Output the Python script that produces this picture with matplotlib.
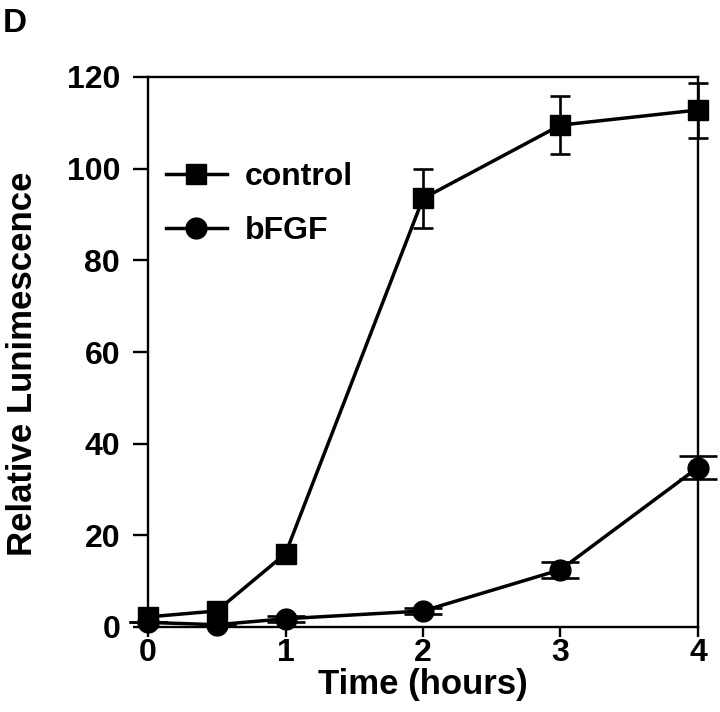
import numpy as np
import matplotlib
matplotlib.use('Agg')
import matplotlib.pyplot as plt

plt.rcParams['font.family'] = ['Liberation Sans', 'DejaVu Sans']
plt.rcParams['font.weight'] = 'bold'

# data
time_h = [0, 0.5, 1, 2, 3, 4]
control = [2.2, 3.5, 16.0, 93.5, 109.5, 112.8]
control_err = [0, 0, 0, 6.5, 6.3, 6.0]
bfgf = [1.0, 0.5, 1.8, 3.5, 12.5, 34.8]
bfgf_err = [0, 0, 0.6, 0.6, 1.7, 2.5]

xticks = [0, 1, 2, 3, 4]
yticks = [0, 20, 40, 60, 80, 100, 120]

fig = plt.figure(figsize=(7.2, 7.12), dpi=100)
ax = fig.add_axes([148 / 720, 1 - 627 / 712, 550 / 720, 550 / 712])

# error bars (kept out of the legend)
ax.errorbar(time_h, control, yerr=control_err, fmt='none', ecolor='black',
            elinewidth=1.9, capsize=7.5, capthick=1.9, clip_on=False)
ax.errorbar(time_h, bfgf, yerr=bfgf_err, fmt='none', ecolor='black',
            elinewidth=1.9, capsize=14, capthick=1.9, clip_on=False)

ax.plot(time_h, bfgf, color='black', lw=2.5, marker='o', markersize=15,
        label='bFGF', clip_on=False, zorder=3)
ax.plot(time_h, control, color='black', lw=2.5, marker='s', markersize=15,
        label='control', clip_on=False, zorder=4)

ax.set_xlim(0, 4)
ax.set_ylim(0, 120)
ax.set_xticks(xticks)
ax.set_yticks(yticks)

for s in ax.spines.values():
    s.set_linewidth(1.7)

ax.tick_params(axis='y', direction='out', length=11, width=1.7, pad=9,
               labelsize=23)
ax.tick_params(axis='x', direction='out', length=7, width=1.7, pad=1,
               labelsize=23)
for lab in ax.get_xticklabels() + ax.get_yticklabels():
    lab.set_fontweight('bold')

ax.set_xlabel('Time (hours)', fontsize=25, fontweight='bold', labelpad=0)
ax.set_ylabel('Relative Lunimescence', fontsize=25, fontweight='bold',
              labelpad=20)
ax.yaxis.label.set_y(0.478)

handles, labels = ax.get_legend_handles_labels()
ax.legend(handles[::-1], labels[::-1], loc='upper left',
          bbox_to_anchor=(0.033, 0.845), frameon=False, borderpad=0,
          borderaxespad=0, handlelength=1.9, handletextpad=0.55,
          labelspacing=0.75, prop={'size': 23, 'weight': 'bold'})

fig.text(3 / 720, 1 - 8 / 712, 'D', fontsize=24, fontweight='bold',
         ha='left', va='top')

fig.savefig('out.png', dpi=100)
